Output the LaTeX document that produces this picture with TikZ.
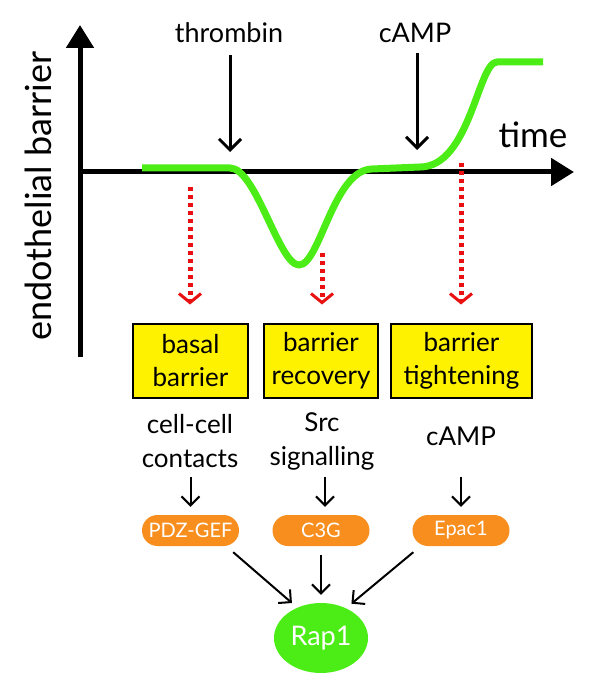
\documentclass[tikz,border=0pt]{standalone}
\usepackage{fontspec}
\setmainfont{Lato}
\usetikzlibrary{arrows.meta,shapes.geometric,calc}
\definecolor{lgreen}{RGB}{76,236,22}
\definecolor{orng}{RGB}{247,142,30}
\definecolor{ylw}{RGB}{255,242,0}
\definecolor{rdot}{RGB}{232,16,16}
\begin{document}
\begin{tikzpicture}[x=1pt,y=-1pt,
  axis/.style={line width=5pt,-{Triangle[length=23pt,width=27pt]}},
  tarrow/.style={line width=3pt,-{Straight Barb[length=11pt,width=22pt,line width=3pt]}},
  blk/.style={line width=2pt,-{Straight Barb[length=9pt,width=18pt,line width=2pt]}},
  reddot/.style={rdot,line width=5pt,dash pattern=on 4pt off 4pt,-{Straight Barb[length=9pt,width=22pt,line width=3pt]}},
  lbl/.style={inner sep=0pt,font=\fontsize{27}{30}\selectfont},
  boxn/.style={draw=black,line width=2pt,fill=ylw,inner sep=0pt,minimum height=74pt,align=center,font=\fontsize{26}{33}\selectfont},
  midtxt/.style={inner sep=0pt,align=center,font=\fontsize{26}{34}\selectfont},
  pill/.style={fill=orng,rounded corners=15.5pt,minimum width=97pt,minimum height=31pt,inner sep=0pt,text=white,font=\fontsize{20}{24}\selectfont},
]
\useasboundingbox (0,0) rectangle (600,700);
% axes
\coordinate (o) at (80,172);
\coordinate (yb) at (80,357);
\coordinate (yt) at (80,25);
\coordinate (xt) at (574,172);
\draw[axis] (yb) -- (yt);
\draw[axis] (o) -- (xt);
\node[rotate=90,inner sep=0pt,font=\fontsize{36}{40}\selectfont] (ylab) at (38.5,196) {endothelial barrier};
\node[inner sep=0pt,anchor=base,font=\fontsize{35}{38}\selectfont] (time) at (533,148) {time};
% stimuli
\node[lbl,anchor=base] (thr) at (229,43) {thrombin};
\node[lbl,anchor=base] (camp) at (415,43) {cAMP};
\coordinate (thrtip) at (230,152);
\coordinate (camptip) at (417,150);
\draw[tarrow,shorten <=12pt] (thr.south -| thrtip) -- (thrtip);
\draw[tarrow,shorten <=10pt] (camp.south -| camptip) -- (camptip);
% curve
\draw[lgreen,line width=7pt,line join=round]
  (142,168) -- (230,168)
  .. controls (256,168) and (279,265) .. (299,265)
  .. controls (320,265) and (333,170) .. (372,169)
  -- (420,167)
  .. controls (470,167) and (478,62) .. (497,62)
  -- (543,62);
% boxes
\node[boxn,minimum width=115pt] (b1) at (190.5,360.5) {basal\\barrier};
\node[boxn,minimum width=114pt] (b2) at (321,360.5) {barrier\\recovery};
\node[boxn,minimum width=141pt] (b3) at (461.5,360.5) {barrier\\tightening};
% red dotted arrows
\coordinate (r1) at (190,187);
\coordinate (r2) at (322,253);
\coordinate (r3) at (461,163);
\draw[reddot,shorten >=18pt] (r1) -- (r1 |- b1.north);
\draw[reddot,shorten >=18pt] (r2) -- (r2 |- b2.north);
\draw[reddot,shorten >=18pt] (r3) -- (r3 |- b3.north);
% middle texts
\node[midtxt] (t1) at (190,441) {cell-cell\\contacts};
\node[midtxt] (t2) at (322,441) {Src\\signalling};
\node[midtxt] (t3) at (461,436) {cAMP};
% pills
\node[pill] (p1) at (190.5,530.5) {PDZ-GEF};
\node[pill] (p2) at (321,530.5) {C3G};
\node[pill] (p3) at (461,530.5) {Epac1};
\draw[blk,shorten >=8pt] ($(p1.north)+(0,-38)$) -- (p1.north);
\draw[blk,shorten >=8pt] ($(p2.north)+(4,-38)$) -- ($(p2.north)+(4,0)$);
\draw[blk,shorten >=8pt] ($(p3.north)+(0,-38)$) -- (p3.north);
% Rap1
\node[ellipse,fill=lgreen,minimum width=94pt,minimum height=70pt,inner sep=0pt,text=white,font=\fontsize{27}{30}\selectfont] (rap) at (321,638) {Rap1};
\draw[blk,shorten >=7pt] ($(p1.south east)+(-6,6)$) -- (rap.128);
\draw[blk,shorten >=8pt] ($(p2.south)+(0,9)$) -- (rap.north);
\draw[blk,shorten >=7pt] ($(p3.south west)+(1,6)$) -- (rap.50);
\end{tikzpicture}
\end{document}
